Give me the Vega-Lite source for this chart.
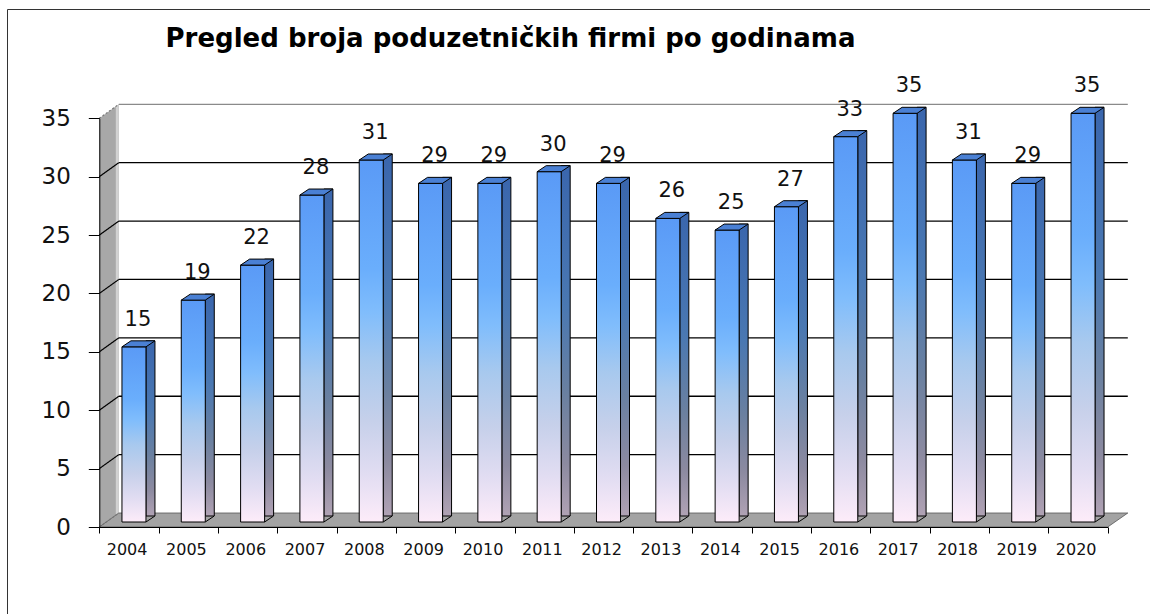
{
  "$schema": "https://vega.github.io/schema/vega-lite/v6.json",
  "width": 1143,
  "height": 605,
  "autosize": "none",
  "padding": {"left": 7, "top": 9, "right": 0, "bottom": 0},
  "background": "white",
  "config": {
    "view": {"stroke": "#333333", "strokeWidth": 1},
    "font": "DejaVu Sans"
  },
  "title": {
    "text": "Pregled broja poduzetničkih firmi po godinama",
    "font": "DejaVu Sans",
    "fontWeight": "bold",
    "fontSize": 26,
    "color": "black",
    "anchor": "middle",
    "frame": "group",
    "offset": 0,
    "baseline": "alphabetic",
    "dx": -68,
    "dy": 64
  },
  "datasets": {
    "bars": [
      {"year": "2004", "value": 15},
      {"year": "2005", "value": 19},
      {"year": "2006", "value": 22},
      {"year": "2007", "value": 28},
      {"year": "2008", "value": 31},
      {"year": "2009", "value": 29},
      {"year": "2010", "value": 29},
      {"year": "2011", "value": 30},
      {"year": "2012", "value": 29},
      {"year": "2013", "value": 26},
      {"year": "2014", "value": 25},
      {"year": "2015", "value": 27},
      {"year": "2016", "value": 33},
      {"year": "2017", "value": 35},
      {"year": "2018", "value": 31},
      {"year": "2019", "value": 29},
      {"year": "2020", "value": 35}
    ],
    "grid": [
      {"g": 0}, {"g": 5}, {"g": 10}, {"g": 15}, {"g": 20}, {"g": 25}, {"g": 30}, {"g": 35}
    ],
    "one": [{"k": 1}]
  },
  "data": {"name": "bars"},
  "layer": [
    {
      "data": {"name": "one"},
      "mark": {"type": "point", "shape": "M0,0L0,-408.7L19.5,-422.7L19.5,-14Z", "size": 4, "filled": true, "opacity": 1, "fill": "#a8a8a8", "strokeWidth": 0},
      "encoding": {
        "x": {"datum": "2004", "type": "ordinal", "bandPosition": 0},
        "y": {"datum": 0, "type": "quantitative"}
      }
    },
    {
      "data": {"name": "one"},
      "mark": {"type": "point", "shape": "M16.5,-11.8L19.5,-14L19.5,-422.7L16.5,-420.5Z", "size": 4, "filled": true, "opacity": 1, "fill": "#d2d2d2", "strokeWidth": 0},
      "encoding": {
        "x": {"datum": "2004", "type": "ordinal", "bandPosition": 0},
        "y": {"datum": 0, "type": "quantitative"}
      }
    },
    {
      "data": {"name": "one"},
      "mark": {"type": "point", "shape": "M0,0L1008.4,0L1028.5,-14L19.5,-14Z", "size": 4, "filled": true, "opacity": 1, "fill": "#a3a3a3", "stroke": "#555555", "strokeWidth": 0.8},
      "encoding": {
        "x": {"datum": "2004", "type": "ordinal", "bandPosition": 0},
        "y": {"datum": 0, "type": "quantitative"}
      }
    },
    {
      "data": {"name": "grid"},
      "transform": [{"filter": "datum.g > 0"}],
      "mark": {"type": "point", "shape": "M19.5,-14L1028.5,-14", "size": 4, "filled": false, "opacity": 1, "strokeWidth": 1.3},
      "encoding": {
        "x": {"datum": "2004", "type": "ordinal", "bandPosition": 0},
        "y": {"field": "g", "type": "quantitative"},
        "color": {"condition": {"test": "datum.g == 35", "value": "#8a8a8a"}, "value": "#000000"}
      }
    },
    {
      "data": {"name": "grid"},
      "mark": {"type": "point", "shape": "M0,0L19.5,-14", "size": 4, "filled": false, "opacity": 1, "strokeWidth": 1.2},
      "encoding": {
        "x": {"datum": "2004", "type": "ordinal", "bandPosition": 0},
        "y": {"field": "g", "type": "quantitative"},
        "color": {"condition": {"test": "datum.g == 0 || datum.g == 35", "value": "#777777"}, "value": "#000000"},
        "strokeDash": {"condition": {"test": "datum.g == 0 || datum.g == 35", "value": [2, 2]}, "value": [1, 0]}
      }
    },
    {
      "mark": {
        "type": "bar", "width": 9, "xOffset": 21.5, "yOffset": -11, "y2Offset": -5,
        "stroke": "#000000", "strokeWidth": 1,
        "fill": {"gradient": "linear", "x1": 0, "y1": 0, "x2": 0, "y2": 1,
          "stops": [
            {"offset": 0, "color": "#3a66ad"},
            {"offset": 0.4, "color": "#4a78b2"},
            {"offset": 0.65, "color": "#6a80a0"},
            {"offset": 0.85, "color": "#8c8aa0"},
            {"offset": 1, "color": "#b0a2b4"}
          ]}
      },
      "encoding": {
        "x": {"field": "year", "type": "ordinal"},
        "y": {"field": "value", "type": "quantitative"}
      }
    },
    {
      "mark": {"type": "point", "shape": "M17,-5L26,-11L26.8,-11L26.8,-4.4L17,-4.4Z", "size": 4, "filled": true, "opacity": 1, "fill": "#a3a3a3", "strokeWidth": 0},
      "encoding": {
        "x": {"field": "year", "type": "ordinal"},
        "y": {"datum": 0, "type": "quantitative"}
      }
    },
    {
      "mark": {"type": "point", "shape": "M17,-5L26,-11", "size": 4, "filled": false, "opacity": 1, "stroke": "#000000", "strokeWidth": 1},
      "encoding": {
        "x": {"field": "year", "type": "ordinal"},
        "y": {"datum": 0, "type": "quantitative"}
      }
    },
    {
      "mark": {
        "type": "bar", "width": 24, "xOffset": 5, "yOffset": -5, "y2Offset": -5,
        "stroke": "#000000", "strokeWidth": 1,
        "fill": {"gradient": "linear", "x1": 0, "y1": 0, "x2": 0, "y2": 1,
          "stops": [
            {"offset": 0, "color": "#5a9af6"},
            {"offset": 0.3, "color": "#6aaefc"},
            {"offset": 0.42, "color": "#80bdfc"},
            {"offset": 0.56, "color": "#a8c9ee"},
            {"offset": 0.72, "color": "#c6d0ea"},
            {"offset": 0.87, "color": "#e2ddf2"},
            {"offset": 1, "color": "#fdecf9"}
          ]}
      },
      "encoding": {
        "x": {
          "field": "year", "type": "ordinal",
          "scale": {"type": "band", "domain": ["2004","2005","2006","2007","2008","2009","2010","2011","2012","2013","2014","2015","2016","2017","2018","2019","2020"], "range": [92.3, 1100.7], "paddingInner": 0, "paddingOuter": 0},
          "axis": {
            "orient": "bottom", "offset": -87, "title": null, "tickBand": "extent", "tickSize": 6,
            "tickColor": "#000000", "domainColor": "#000000", "domainWidth": 1, "tickWidth": 1,
            "labelFont": "DejaVu Sans", "labelFontSize": 16, "labelColor": "#111111", "labelPadding": 16,
            "labelOffset": 18, "labelAngle": 0, "grid": false, "zindex": 1
          }
        },
        "y": {
          "field": "value", "type": "quantitative",
          "scale": {"domain": [0, 35], "range": [518, 109.3], "nice": false, "zero": true},
          "axis": {
            "orient": "left", "offset": -92.3, "title": null, "values": [0, 5, 10, 15, 20, 25, 30, 35],
            "tickSize": 11, "tickColor": "#000000", "domainColor": "#000000", "domainWidth": 1, "tickWidth": 1,
            "labelFont": "DejaVu Sans", "labelFontSize": 23, "labelColor": "#111111", "labelPadding": 18,
            "grid": false, "zindex": 1
          }
        }
      }
    },
    {
      "mark": {"type": "point", "shape": "M-7,-5L17,-5L26,-11L2,-11Z", "size": 4, "filled": true, "opacity": 1, "fill": "#4a80d4", "stroke": "#000000", "strokeWidth": 1},
      "encoding": {
        "x": {"field": "year", "type": "ordinal"},
        "y": {"field": "value", "type": "quantitative"}
      }
    },
    {
      "mark": {"type": "text", "dx": 9, "dy": -32, "fontSize": 21, "font": "DejaVu Sans", "color": "#111111", "baseline": "middle", "align": "center"},
      "encoding": {
        "x": {"field": "year", "type": "ordinal"},
        "y": {"field": "value", "type": "quantitative"},
        "text": {"field": "value", "type": "quantitative"}
      }
    }
  ]
}
